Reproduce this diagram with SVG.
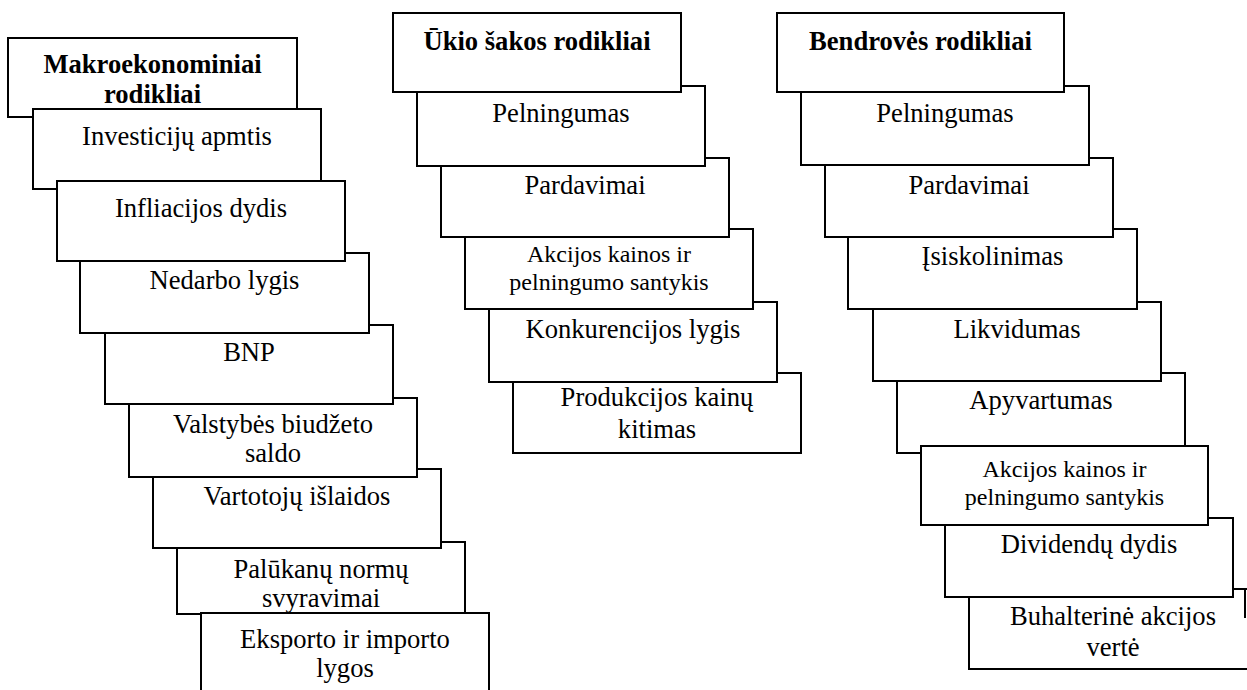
<svg xmlns="http://www.w3.org/2000/svg" width="1247" height="690" viewBox="0 0 1247 690" font-family="Liberation Serif" font-size="26.6" text-anchor="middle">
<style>
.b{fill:#fff;stroke:#000;stroke-width:2}
.h{font-weight:bold}
.s{font-size:24px}
.e{stroke:#000;stroke-width:2;fill:none}
</style>
<rect width="1247" height="690" fill="#fff"/>
<g id="connectors"></g>

<!-- Left column -->
<g id="makro-header"><rect class="b" x="8" y="38" width="289" height="79"/><text class="h" x="152.5" y="73">Makroekonominiai</text><text class="h" x="152.5" y="103">rodikliai</text></g>
<g id="investiciju"><rect class="b" x="33" y="109" width="288" height="80"/><text x="177" y="145">Investicijų apmtis</text></g>
<g id="palukanu"><rect class="b" x="177" y="542" width="288" height="72"/><text x="321" y="578">Palūkanų normų</text><text x="321" y="607">svyravimai</text></g>
<g id="eksporto"><rect class="b" x="201" y="613" width="288" height="100"/><text x="345" y="648">Eksporto ir importo</text><text x="345" y="677">lygos</text></g>
<g id="vartotoju"><rect class="b" x="153" y="469" width="288" height="79"/><text x="297" y="505">Vartotojų išlaidos</text></g>
<g id="valstybes"><rect class="b" x="129" y="398" width="288" height="79"/><text x="273" y="433">Valstybės biudžeto</text><text x="273" y="462">saldo</text></g>
<g id="bnp"><rect class="b" x="105" y="325" width="288" height="79"/><text x="249" y="361">BNP</text></g>
<g id="nedarbo"><rect class="b" x="80" y="253" width="289" height="80"/><text x="224.5" y="289">Nedarbo lygis</text></g>
<g id="infliacijos"><rect class="b" x="57" y="181" width="288" height="80"/><text x="201" y="217">Infliacijos dydis</text></g>

<!-- Middle column -->
<g id="ukio-produkcijos"><rect class="b" x="513" y="373" width="288" height="80"/><text x="657" y="406">Produkcijos kainų</text><text x="657" y="438">kitimas</text></g>
<g id="ukio-konkurencijos"><rect class="b" x="489" y="302" width="288" height="80"/><text x="633" y="338">Konkurencijos lygis</text></g>
<g id="ukio-akcijos"><rect class="b" x="465" y="229" width="288" height="80"/><text class="s" x="609" y="262">Akcijos kainos ir</text><text class="s" x="609" y="290">pelningumo santykis</text></g>
<g id="ukio-pardavimai"><rect class="b" x="441" y="158" width="288" height="79"/><text x="585" y="194">Pardavimai</text></g>
<g id="ukio-pelningumas"><rect class="b" x="417" y="86" width="288" height="80"/><text x="561" y="122">Pelningumas</text></g>
<g id="ukio-header"><rect class="b" x="393" y="13" width="288" height="79"/><text class="h" x="537" y="50">Ūkio šakos rodikliai</text></g>

<!-- Right column -->
<g id="bend-buhalterine"><rect class="b" x="969" y="589" width="288" height="80"/><line class="e" x1="1245" y1="589" x2="1245" y2="618"/><text x="1113" y="625">Buhalterinė akcijos</text><text x="1113" y="656">vertė</text></g>
<g id="bend-dividendu"><rect class="b" x="945" y="518" width="288" height="79"/><text x="1089" y="553">Dividendų dydis</text></g>
<g id="bend-apyvartumas"><rect class="b" x="897" y="373" width="288" height="80"/><text x="1041" y="409">Apyvartumas</text></g>
<g id="bend-akcijos"><rect class="b" x="921" y="446" width="287" height="79"/><text class="s" x="1064.5" y="477">Akcijos kainos ir</text><text class="s" x="1064.5" y="505">pelningumo santykis</text></g>
<g id="bend-likvidumas"><rect class="b" x="873" y="302" width="288" height="79"/><text x="1017" y="338">Likvidumas</text></g>
<g id="bend-isiskolinimas"><rect class="b" x="848" y="229" width="289" height="80"/><text x="992.5" y="265">Įsiskolinimas</text></g>
<g id="bend-pardavimai"><rect class="b" x="825" y="158" width="288" height="79"/><text x="969" y="194">Pardavimai</text></g>
<g id="bend-pelningumas"><rect class="b" x="801" y="86" width="288" height="79"/><text x="945" y="122">Pelningumas</text></g>
<g id="bend-header"><rect class="b" x="777" y="13" width="287" height="79"/><text class="h" x="920.5" y="50">Bendrovės rodikliai</text></g>
</svg>
